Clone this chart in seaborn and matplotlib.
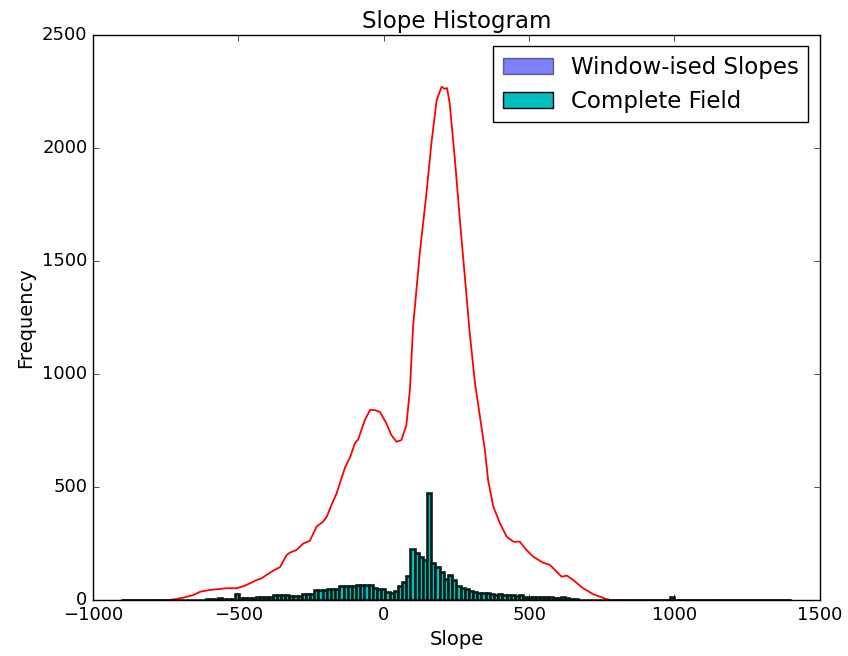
import matplotlib
matplotlib.use("Agg")
import matplotlib.pyplot as plt
import seaborn as sns
import numpy as np
import pandas as pd
from matplotlib.patches import Patch

# ---------------- data ----------------
bin_start = -900
bin_stop = 1400
n_bins = 160

complete_counts = [
    1, 1, 1, 1, 1, 1, 1, 1, 1, 2,
    2, 2, 2, 2, 2, 2, 2, 2, 2, 2,
    3, 3, 3, 8, 5, 5, 5, 28, 10, 10,
    10, 10, 14, 14, 14, 14, 20, 20, 20, 20,
    17, 17, 17, 25, 25, 25, 42, 42, 42, 47,
    47, 47, 62, 62, 62, 62, 68, 68, 68, 66,
    52, 48, 50, 35, 32, 40, 62, 78, 105, 225,
    210, 190, 175, 473, 163, 145, 125, 95, 110, 90,
    62, 52, 48, 40, 35, 33, 32, 30, 25, 22,
    26, 20, 24, 22, 18, 20, 14, 12, 15, 13,
    12, 14, 11, 10, 10, 12, 8, 6, 4, 2,
    2, 2, 2, 2, 2, 2, 2, 2, 2, 2,
    2, 2, 2, 2, 2, 2, 2, 2, 2, 2,
    2, 12, 1, 1, 1, 1, 1, 1, 1, 1,
    1, 1, 1, 1, 1, 1, 1, 1, 1, 1,
    1, 1, 1, 1, 1, 1, 1, 1, 1, 1,
]

window_x = [
    -900, -800, -740, -720, -690, -655, -630, -600, -570, -540,
    -506, -480, -460, -437, -420, -403, -380, -357, -334, -322,
    -300, -277, -254, -231, -210, -196, -180, -162, -133, -115,
    -99, -88, -65, -47, -30, -13, 9, 26, 44, 61,
    78, 90, 101, 124, 147, 164, 182, 199, 210, 218,
    227, 245, 262, 279, 296, 314, 331, 348, 359, 377,
    400, 423, 446, 468, 491, 514, 548, 572, 595, 612,
    630, 652, 686, 720, 766, 780, 900, 1100, 1400,
]
window_y = [
    0, 0, 0, 3, 10, 22, 37, 44, 48, 52,
    52, 62, 74, 88, 96, 111, 130, 145, 199, 210,
    221, 250, 262, 325, 345, 368, 420, 472, 587, 634,
    694, 710, 796, 841, 840, 832, 782, 730, 700, 708,
    774, 929, 1209, 1534, 1800, 2021, 2212, 2271, 2262, 2265,
    2198, 1947, 1681, 1431, 1180, 959, 811, 664, 531, 413,
    339, 280, 258, 258, 221, 192, 165, 155, 125, 103,
    108, 88, 52, 26, 4, 0, 0, 0, 0,
]

title = "Slope Histogram"
xlabel = "Slope"
ylabel = "Frequency"
legend_labels = ["Window-ised Slopes", "Complete Field"]

# ---------------- style ----------------
plt.style.use("classic")
plt.rcParams["figure.facecolor"] = "white"
plt.rcParams["savefig.facecolor"] = "white"
plt.rcParams["font.family"] = ["DejaVu Sans"]

fig = plt.figure(figsize=(8.48, 6.56), dpi=100)
ax = fig.add_axes([0.1097, 0.0854, 0.857, 0.8612])

edges = np.linspace(bin_start, bin_stop, n_bins + 1)
centers = (edges[:-1] + edges[1:]) / 2
hist_df = pd.DataFrame({"slope": centers, "count": complete_counts})
line_df = pd.DataFrame({"slope": window_x, "freq": window_y})

sns.lineplot(data=line_df, x="slope", y="freq", color="red", linewidth=1.3,
             estimator=None, ax=ax, zorder=1)
sns.histplot(data=hist_df, x="slope", weights="count", bins=list(edges),
             color="c", edgecolor="#0b1f18", linewidth=1.9, alpha=1.0,
             ax=ax, zorder=2)

ax.set_xlim(-1000, 1500)
ax.set_ylim(0, 2500)
ax.set_xticks([-1000, -500, 0, 500, 1000, 1500])
ax.set_yticks([0, 500, 1000, 1500, 2000, 2500])
ax.tick_params(labelsize=13)
ax.set_title(title, fontsize=16.5)
ax.set_xlabel(xlabel, fontsize=14)
ax.set_ylabel(ylabel, fontsize=14)

handles = [
    Patch(facecolor="blue", alpha=0.5, edgecolor="black"),
    Patch(facecolor="c", edgecolor="black"),
]
ax.legend(handles, legend_labels, loc="upper right", fontsize=16.5,
          handlelength=2.2)

fig.savefig("out.png", dpi=100)
